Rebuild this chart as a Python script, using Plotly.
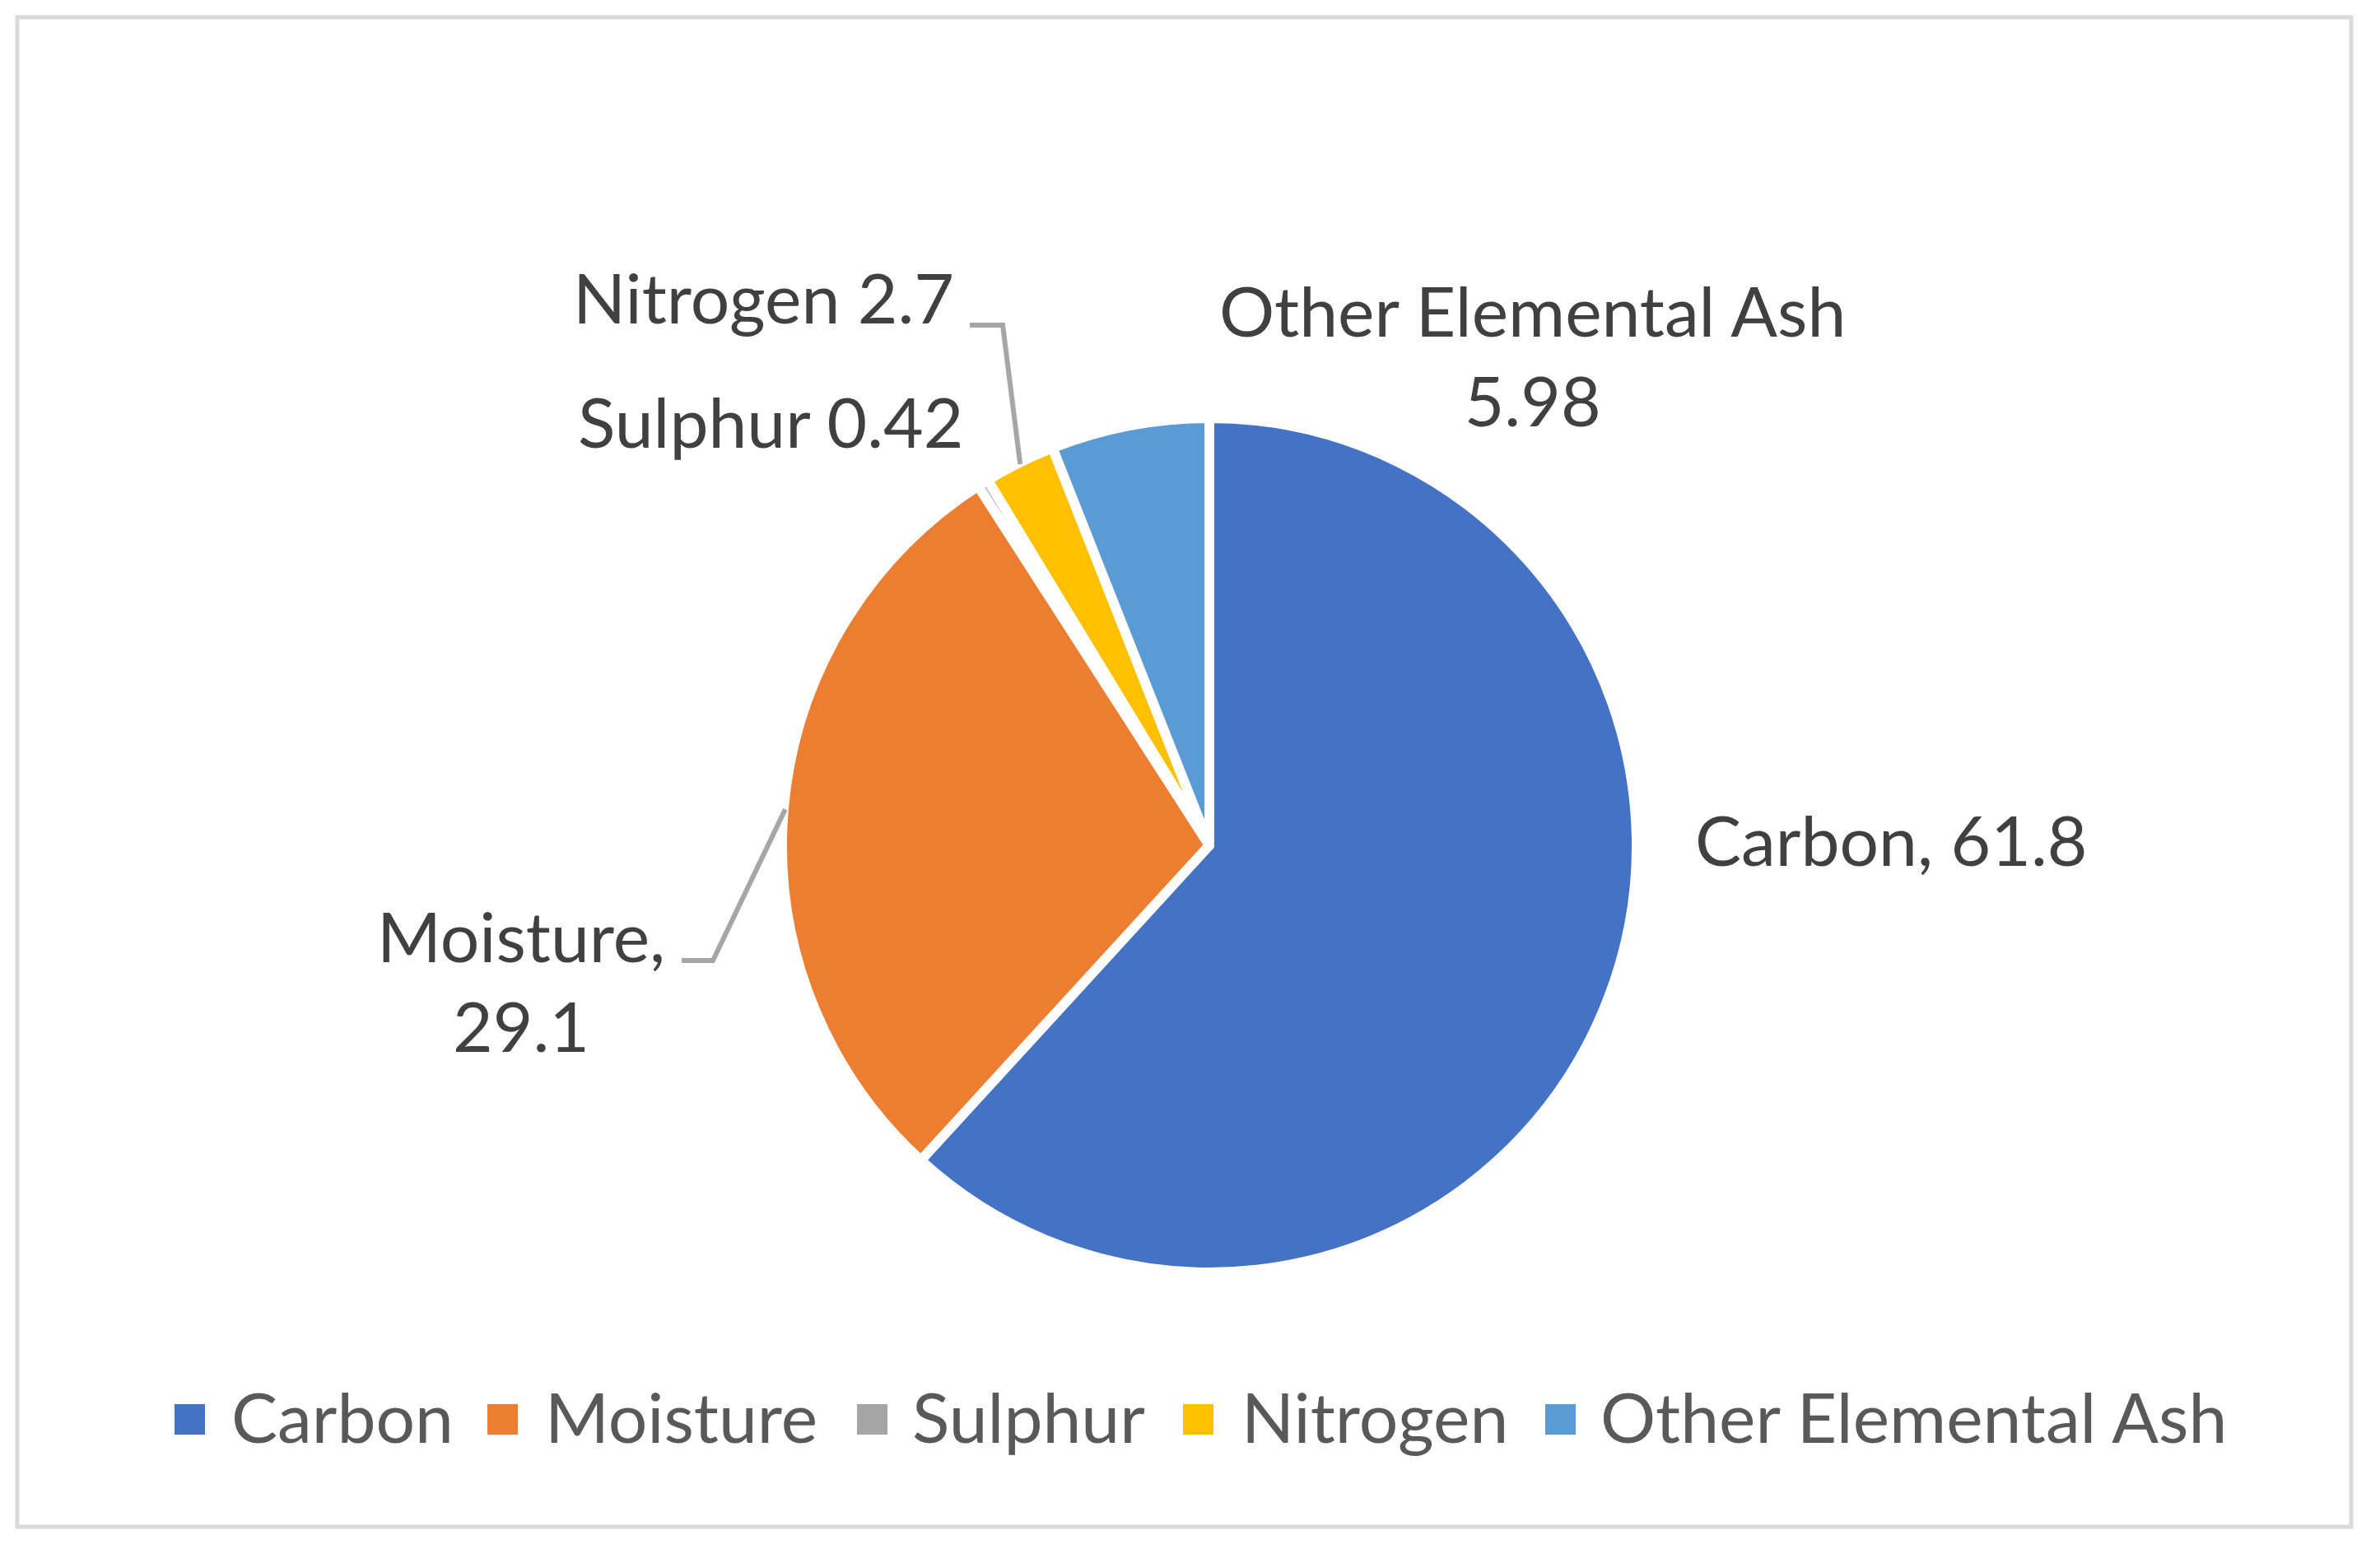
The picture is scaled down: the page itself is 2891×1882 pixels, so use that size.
import math

import plotly.graph_objects as go

# data
labels = ["Carbon", "Moisture", "Sulphur", "Nitrogen", "Other Elemental Ash"]
values = [61.8, 29.1, 0.42, 2.7, 5.98]
colors = ["#4472C4", "#ED7D31", "#A5A5A5", "#FFC000", "#5B9BD5"]
label_sep = [", ", ",<br>", " ", " ", "<br>"]

W, H = 2891, 1882
OFF = 8  # page body margin added by the html wrapper
CX, CY, R = 1469, 1027, 519  # pie centre / radius in px


def px(x, y):
    return (x - OFF) / W, 1 - (y - OFF) / H


def slice_point(i, r):
    """point on the mid-angle of slice i, clockwise from 12 o'clock."""
    total = sum(values)
    start = sum(values[:i]) / total
    theta = 2 * math.pi * (start + values[i] / total / 2)
    return CX + r * math.sin(theta), CY - r * math.cos(theta)


dx0, dy0 = px(CX - R, CY + R)
dx1, dy1 = px(CX + R, CY - R)
fig = go.Figure(
    go.Pie(
        labels=labels,
        values=values,
        sort=False,
        direction="clockwise",
        rotation=0,
        marker=dict(colors=colors, line=dict(color="white", width=12)),
        textinfo="none",
        hoverinfo="label+value",
        showlegend=False,
        domain=dict(x=[dx0, dx1], y=[dy0, dy1]),
    )
)

# data labels
label_pos = [
    (2057, 1020, "left"),
    (633, 1191, "center"),
    (1172, 511, "right"),
    (1161, 361, "right"),
    (1861, 431, "center"),
]
for i, (x, y, anchor) in enumerate(label_pos):
    ax, ay = px(x, y)
    fig.add_annotation(
        x=ax, y=ay, xref="paper", yref="paper",
        text=f"{labels[i]}{label_sep[i]}{values[i]:g}",
        showarrow=False, xanchor=anchor, yanchor="middle", align="center",
        font=dict(family="Lato", size=84, color="#404040"),
    )

# leader lines (elbow -> slice edge)
leaders = {1: [(828, 1167), (866, 1167)], 3: [(1178, 395), (1218, 395)]}
for i, pts in leaders.items():
    ex, ey = slice_point(i, R - 2)
    path = "M " + " L ".join(
        f"{px(x, y)[0]},{px(x, y)[1]}" for x, y in pts + [(ex, ey)]
    )
    fig.add_shape(type="path", path=path, xref="paper", yref="paper",
                  line=dict(color="#A6A6A6", width=6))

# legend (swatch + text)
swatch_x = [212, 592, 1041, 1437, 1877]
text_x = [279, 660, 1106, 1506, 1942]
for i, name in enumerate(labels):
    x0, y0 = px(swatch_x[i], 1743)
    x1, y1 = px(swatch_x[i] + 37, 1706)
    fig.add_shape(type="rect", x0=x0, y0=y0, x1=x1, y1=y1,
                  xref="paper", yref="paper",
                  fillcolor=colors[i], line=dict(width=0))
    tx, ty = px(text_x[i], 1720)
    fig.add_annotation(
        x=tx, y=ty, xref="paper", yref="paper", text=name,
        showarrow=False, xanchor="left", yanchor="middle",
        font=dict(family="Lato", size=84, color="#595959"),
    )

# chart area border
bx0, by0 = px(21, 1855)
bx1, by1 = px(2856, 21)
fig.add_shape(type="rect", x0=bx0, y0=by0, x1=bx1, y1=by1,
              xref="paper", yref="paper",
              line=dict(color="#D9D9D9", width=5))

fig.update_layout(
    width=W,
    height=H,
    margin=dict(l=0, r=0, t=0, b=0),
    paper_bgcolor="white",
    plot_bgcolor="white",
    showlegend=False,
)
fig.write_html("out.html")
